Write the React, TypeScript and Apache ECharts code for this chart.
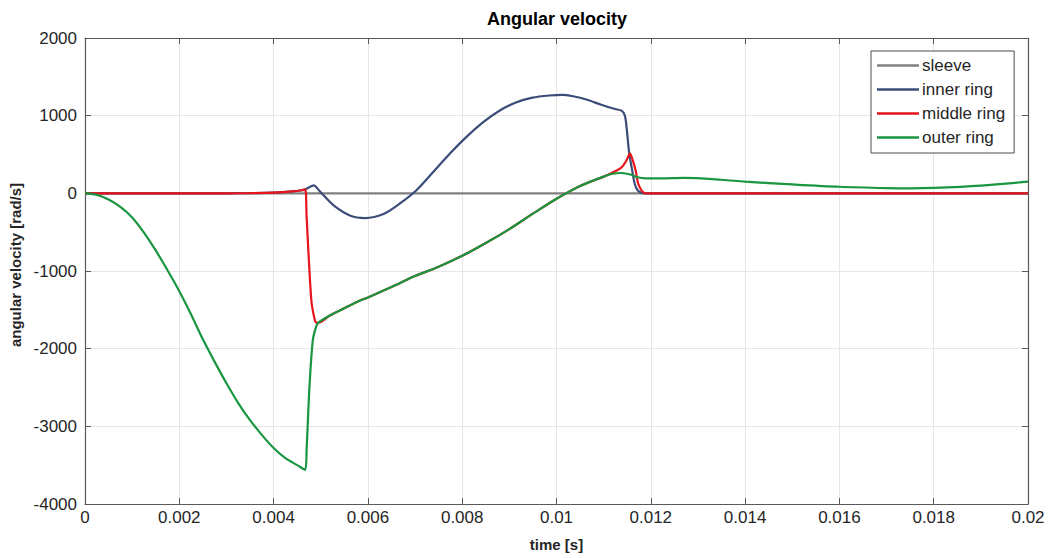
import React, { useEffect, useRef } from "react";
import * as echarts from "echarts";

const seriesNames = ["sleeve", "inner ring", "middle ring", "outer ring"];
const seriesColors = ["#808080", "#3b4c78", "#e8141c", "#1a9640"];

const xTicks = { min: 0, max: 0.02, interval: 0.002 };
const yTicks = { min: -4000, max: 2000, interval: 1000 };

const sleeve: number[][] = [
  [0, 0],
  [0.02, 0],
];

const innerRing: number[][] = [
  [0, 0], [0.003, 0], [0.0035, 3], [0.004, 10], [0.0044, 25], [0.0046, 40], [0.00467, 50],
  [0.0048, 92], [0.00486, 102], [0.0049, 82], [0.005, 13], [0.00528, -159], [0.00563, -288],
  [0.00594, -318], [0.00633, -266], [0.00668, -130], [0.00703, 40], [0.00738, 270],
  [0.00773, 506], [0.00808, 721], [0.00844, 914], [0.00879, 1064], [0.00914, 1170],
  [0.00949, 1232], [0.00985, 1260], [0.01012, 1268], [0.01035, 1250], [0.01065, 1205],
  [0.01095, 1140], [0.01124, 1086], [0.01138, 1064], [0.01145, 1000], [0.01149, 828],
  [0.01154, 528], [0.0116, 313], [0.01166, 120], [0.01172, 40], [0.0118, 5], [0.01186, 0],
  [0.02, 0],
];

const middleRing: number[][] = [
  [0, 0], [0.003, 0], [0.0035, 3], [0.004, 10], [0.0044, 25], [0.0046, 40], [0.00467, 50],
  [0.0047, -300], [0.0048, -1373], [0.00487, -1620], [0.00491, -1665], [0.00495, -1665],
  [0.0052, -1570], [0.0055, -1480], [0.0058, -1390], [0.006, -1340], [0.0065, -1205],
  [0.007, -1065], [0.0075, -945], [0.008, -805], [0.0085, -640], [0.009, -460],
  [0.0095, -262], [0.01, -70], [0.0105, 95], [0.011, 215], [0.01117, 262], [0.01138, 335],
  [0.01148, 420], [0.01156, 510], [0.01162, 420], [0.01168, 290], [0.01173, 129],
  [0.0118, 40], [0.01185, 10], [0.0119, 0], [0.02, 0],
];

const outerRing: number[][] = [
  [0, 0], [0.00025, -20], [0.0005, -80], [0.00075, -175], [0.001, -310], [0.00125, -505],
  [0.0015, -735], [0.00175, -990], [0.002, -1260], [0.00225, -1560], [0.0025, -1880],
  [0.00275, -2170], [0.003, -2445], [0.00325, -2700], [0.0035, -2920], [0.00375, -3110],
  [0.004, -3280], [0.00425, -3410], [0.0045, -3500], [0.00467, -3560],
  [0.0047, -3300], [0.00476, -2500], [0.00483, -1900], [0.0049, -1720], [0.00495, -1665],
  [0.0052, -1570], [0.0055, -1480], [0.0058, -1390], [0.006, -1340], [0.0065, -1205],
  [0.007, -1065], [0.0075, -945], [0.008, -805], [0.0085, -640], [0.009, -460],
  [0.0095, -262], [0.01, -70], [0.0105, 95], [0.011, 215], [0.01117, 249], [0.01138, 262],
  [0.0116, 236], [0.0117, 210], [0.0119, 193], [0.0122, 192], [0.0127, 198], [0.0135, 175],
  [0.014, 150], [0.015, 115], [0.016, 85], [0.017, 68], [0.0175, 64], [0.018, 70],
  [0.019, 100], [0.02, 150],
];

const allData = [sleeve, innerRing, middleRing, outerRing];

const FONT = "'Liberation Sans', Arial, Helvetica, sans-serif";
const AXIS_COLOR = "#595959";
const LABEL_COLOR = "#262626";

export default function App() {
  const ref = useRef<HTMLDivElement>(null);

  useEffect(() => {
    if (!ref.current) return;
    const chart = echarts.init(ref.current, null, { renderer: "svg" });
    const fmt = (v: number) => String(parseFloat(v.toFixed(4)));
    const axisCommon = {
      axisLine: { show: true, onZero: false, lineStyle: { color: AXIS_COLOR, width: 1.2 } },
      axisTick: { show: true, inside: true, length: 6, lineStyle: { color: AXIS_COLOR } },
    };
    chart.setOption({
      animation: false,
      backgroundColor: "#ffffff",
      title: {
        text: "Angular velocity",
        left: 557,
        top: 10,
        padding: 0,
        textAlign: "center",
        textStyle: { fontFamily: FONT, fontSize: 18, fontWeight: "bold", color: "#000" },
      },
      legend: {
        data: seriesNames,
        orient: "vertical",
        left: 871,
        top: 51,
        icon: "rect",
        itemWidth: 42,
        itemHeight: 2.5,
        itemGap: 7,
        padding: [6, 9, 7, 6],
        backgroundColor: "#ffffff",
        borderColor: "#4d4d4d",
        borderWidth: 1,
        borderRadius: 0,
        textStyle: { fontFamily: FONT, fontSize: 17, color: LABEL_COLOR, lineHeight: 17, padding: [0, 0, 0, -2] },
      },
      grid: { left: 85, right: 26, top: 38, bottom: 54, containLabel: false, outerBoundsMode: "none" },
      xAxis: [
        {
          type: "value",
          ...xTicks,
          ...axisCommon,
          name: "time [s]",
          nameLocation: "middle",
          nameGap: 33,
          nameTextStyle: { fontFamily: FONT, fontSize: 15, fontWeight: "bold", color: LABEL_COLOR },
          axisLabel: { formatter: fmt, fontFamily: FONT, fontSize: 17, color: LABEL_COLOR, margin: 5 },
          splitLine: { show: true, lineStyle: { color: "#e6e6e6", width: 1 } },
        },
        {
          type: "value",
          position: "top",
          ...xTicks,
          ...axisCommon,
          axisLabel: { show: false },
          splitLine: { show: false },
        },
      ],
      yAxis: [
        {
          type: "value",
          ...yTicks,
          ...axisCommon,
          name: "angular velocity [rad/s]",
          nameLocation: "middle",
          nameGap: 58,
          nameTextStyle: { fontFamily: FONT, fontSize: 15, fontWeight: "bold", color: LABEL_COLOR, padding: [0, 0, 0, 12] },
          axisLabel: { formatter: (v: number) => String(v), fontFamily: FONT, fontSize: 17, color: LABEL_COLOR, margin: 8 },
          splitLine: { show: true, lineStyle: { color: "#e6e6e6", width: 1 } },
        },
        {
          type: "value",
          position: "right",
          ...yTicks,
          ...axisCommon,
          axisLabel: { show: false },
          splitLine: { show: false },
        },
      ],
      series: allData.map((d, i) => ({
        name: seriesNames[i],
        type: "line",
        data: d,
        xAxisIndex: 0,
        yAxisIndex: 0,
        showSymbol: false,
        symbol: "none",
        smooth: 0.3,
        color: seriesColors[i],
        lineStyle: { color: seriesColors[i], width: 2.2 },
      })),
    });
    return () => chart.dispose();
  }, []);

  return (
    <div
      ref={ref}
      style={{ position: "fixed", left: 0, top: 0, width: 1054, height: 558, background: "#fff" }}
    />
  );
}
